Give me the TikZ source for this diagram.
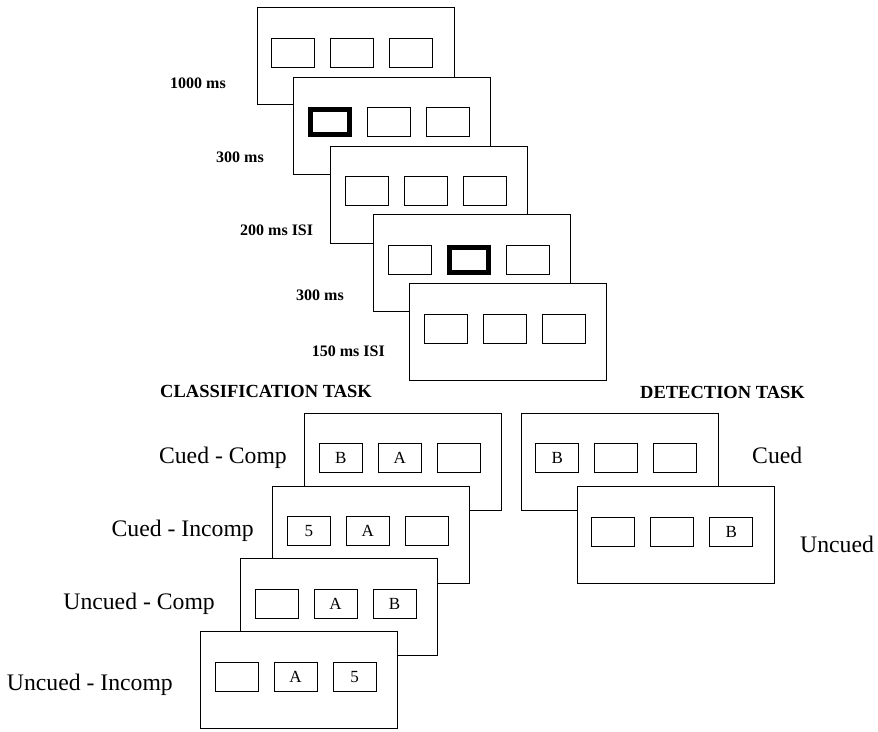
\documentclass[tikz,border=0pt]{standalone}
\usepackage{fontspec}
\setmainfont{Liberation Serif}
\newcommand\shot[9]{% name, x, y, style1, text1, style2, text2, style3, text3
  \node[frm] (#1) at (#2,#3) {};
  \node[#4] (#1a) at (#2+36.5,#3+45.5) {#5};
  \node[#6] (#1b) at (#2+95.5,#3+45.5) {#7};
  \node[#8] (#1c) at (#2+154.5,#3+45.5) {#9};
}
\begin{document}
\begin{tikzpicture}[x=1pt,y=-1pt,
  frm/.style={draw, fill=white, line width=1pt, minimum width=197pt, minimum height=97pt, inner sep=0pt, anchor=north west},
  cell/.style={draw, fill=white, line width=1pt, minimum width=43pt, minimum height=29pt, inner sep=0pt, font=\fontsize{17}{17}\selectfont},
  cue/.style={cell, line width=5pt, minimum width=39pt, minimum height=25pt},
  dur/.style={anchor=base west, inner sep=0pt, font=\bfseries\fontsize{16}{18}\selectfont},
  head/.style={anchor=base west, inner sep=0pt, font=\bfseries\fontsize{18.5}{20}\selectfont},
  cond/.style={inner sep=0pt, font=\fontsize{23.7}{26}\selectfont}]
\useasboundingbox[fill=white] (0,0) rectangle (878,731);

% cue sequence
\shot{f1}{256.7}{7.3}{cell}{}{cell}{}{cell}{}
\shot{f2}{293.3}{76.7}{cue}{}{cell}{}{cell}{}
\shot{f3}{330}{145.7}{cell}{}{cell}{}{cell}{}
\shot{f4}{373.3}{214.3}{cell}{}{cue}{}{cell}{}
\shot{f5}{409.3}{283}{cell}{}{cell}{}{cell}{}

\node[dur] (l1) at (170,88.3) {1000 ms};
\node[dur] (l2) at (216,162) {300 ms};
\node[dur] (l3) at (240,235) {200 ms ISI};
\node[dur] (l4) at (296,300.3) {300 ms};
\node[dur] (l5) at (311.7,356.7) {150 ms ISI};

% classification task
\node[head] (ht1) at (160,397.3) {CLASSIFICATION TASK};
\shot{c1}{304.3}{412.7}{cell}{B}{cell}{A}{cell}{}
\shot{c2}{272.3}{485.7}{cell}{5}{cell}{A}{cell}{}
\shot{c3}{240}{558.3}{cell}{}{cell}{A}{cell}{B}
\shot{c4}{200}{631.3}{cell}{}{cell}{A}{cell}{5}

\node[cond, anchor=base east] (k1) at (287,463.3) {Cued - Comp};
\node[cond, anchor=base east] (k2) at (254,536) {Cued - Incomp};
\node[cond, anchor=base east] (k3) at (215,609.3) {Uncued - Comp};
\node[cond, anchor=base east] (k4) at (173,690) {Uncued - Incomp};

% detection task
\node[head] (ht2) at (640,398.3) {DETECTION TASK};
\shot{d1}{520.7}{412.7}{cell}{B}{cell}{}{cell}{}
\shot{d2}{576.7}{486}{cell}{}{cell}{}{cell}{B}

\node[cond, anchor=base west] (m1) at (752,463.3) {Cued};
\node[cond, anchor=base west] (m2) at (800,552.3) {Uncued};
\end{tikzpicture}
\end{document}
